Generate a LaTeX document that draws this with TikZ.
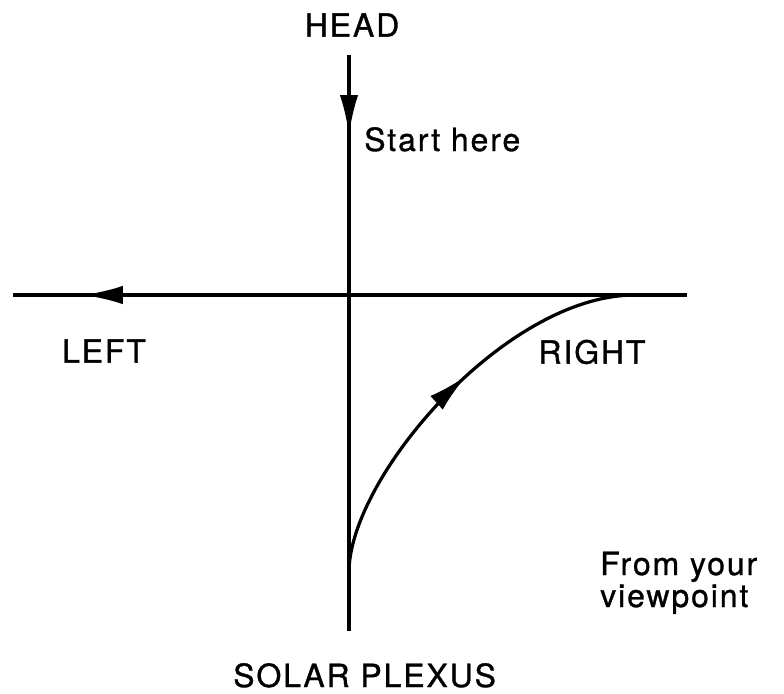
\documentclass[tikz,border=0pt]{standalone}
\usepackage{fontspec}
\setmainfont{TeX Gyre Heros}[LetterSpace=6,FakeBold=1]
\usetikzlibrary{arrows.meta,decorations.markings}

\begin{document}
\begin{tikzpicture}[x=0.025cm,y=-0.025cm,
  axis/.style={line width=2.3pt},
  midarrow/.style={decoration={markings,
      mark=at position #1 with {\arrow{Latex[length=1cm,width=0.46cm]}}},
    postaction={decorate}},
  lbl/.style={font=\fontsize{22.7}{22.7}\selectfont, inner sep=0pt}]
\useasboundingbox (0,0) rectangle (784,693);

% --- axis ends (pixel grid of the original, y downwards) ---
\coordinate (top) at (349,55);
\coordinate (bottom) at (349,631);
\coordinate (leftend) at (13,295);
\coordinate (rightend) at (687,295);

% --- curve ends ---
\coordinate (cstart) at (349,572);
\coordinate (cend) at (635,295);

% --- vertical axis, arrow pointing down ---
\draw[axis, midarrow=2.0cm] (top) -- (bottom);

% --- horizontal axis, arrow pointing left ---
\draw[axis, midarrow=15.1cm] (rightend) -- (leftend);

% --- swing from solar plexus up to the right ---
\draw[axis, midarrow=0.55] (cstart) .. controls (349,478) and (505,295) .. (cend);

% --- labels ---
\node[lbl] (head) at (352,25) {HEAD};
\node[lbl, anchor=base west] (start) at (364,151) {Start here};
\node[lbl] (left) at (104,351) {LEFT};
\node[lbl] (right) at (592,352) {RIGHT};
\node[lbl, anchor=base west] (view) at (600,575) {From your};
\node[lbl, anchor=base west] (view2) at (600,607) {viewpoint};
\node[lbl, anchor=base west] (solar) at (233,687) {SOLAR PLEXUS};
\end{tikzpicture}
\end{document}
